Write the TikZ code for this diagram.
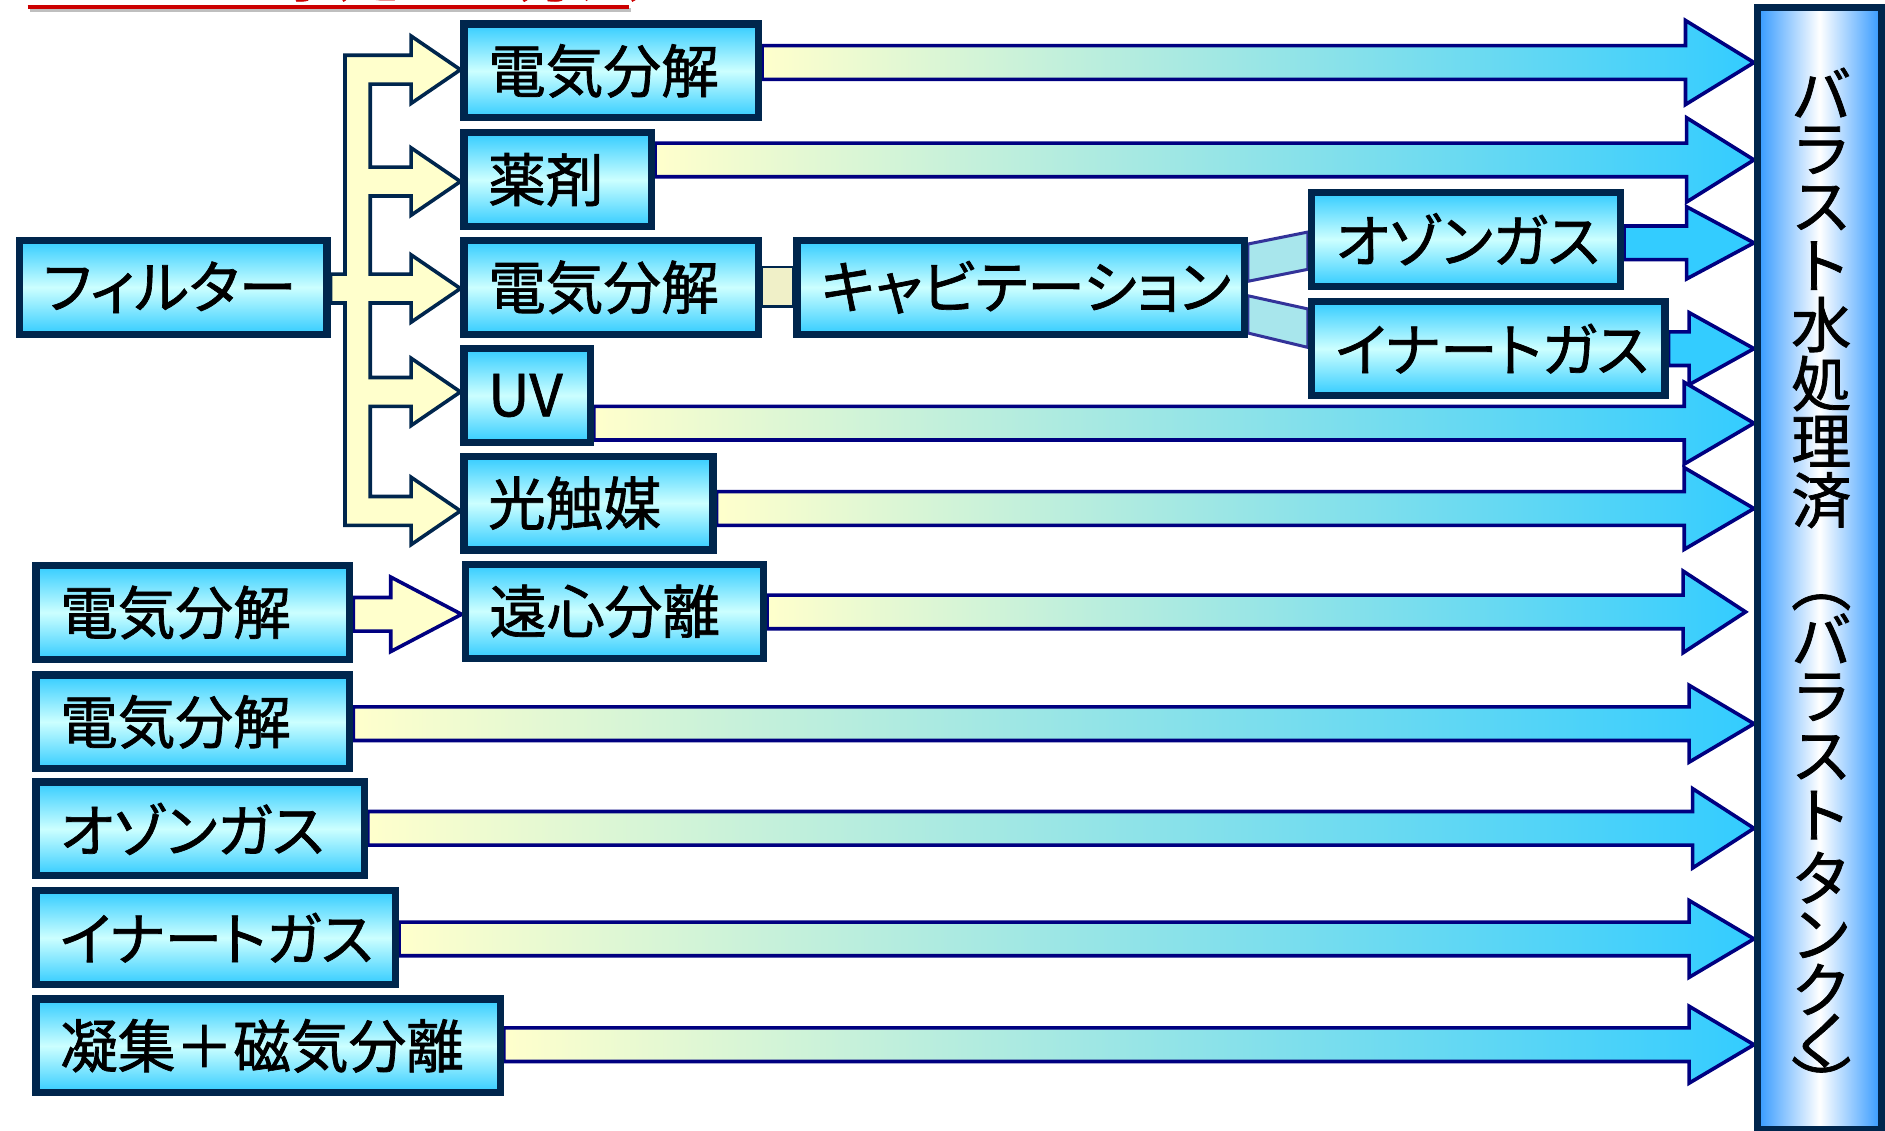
\documentclass[tikz,border=0pt]{standalone}
\usepackage{fontspec}
\usepackage{graphicx}
\setmainfont{Noto Sans CJK JP}[FakeBold=1.2]
\newfontfamily\jpp{Noto Sans CJK JP}[RawFeature=+palt, FakeBold=1.2]
\usetikzlibrary{backgrounds}
\definecolor{boxnavy}{RGB}{0,38,77}
\definecolor{boxblue}{RGB}{51,204,255}
\definecolor{boxlight}{RGB}{204,255,255}
\definecolor{arrline}{RGB}{0,0,128}
\definecolor{ayellow}{RGB}{255,255,204}
\definecolor{acyan}{RGB}{51,204,255}
\definecolor{barblue}{RGB}{51,153,255}
\definecolor{bandfill}{RGB}{168,230,236}
\definecolor{bandline}{RGB}{51,51,153}
\definecolor{ybandfill}{RGB}{240,240,200}
\definecolor{titlered}{RGB}{204,0,0}
\tikzset{
  stagebox/.style={draw=boxnavy, line width=6pt, top color=boxblue, bottom color=boxblue,
    middle color=boxlight, inner xsep=20pt, inner ysep=0pt, minimum height=78pt,
    anchor=west, align=left, font=\fontsize{48}{52}\selectfont},
  kana/.style={font=\jpp\fontsize{48}{52}\selectfont},
  garrow/.style={draw=arrline, line width=3pt, left color=ayellow, right color=acyan, line join=miter},
  carrow/.style={draw=arrline, line width=3pt, fill=acyan, line join=miter},
  yarrow/.style={draw=arrline, line width=3pt, fill=ayellow, line join=miter},
  branch/.style={draw=boxnavy, line width=3pt, fill=ayellow, line join=miter},
  band/.style={draw=bandline, line width=2.5pt, fill=bandfill},
  yband/.style={draw=boxnavy, line width=2pt, fill=ybandfill},
  bartxt/.style={font=\fontsize{50}{52}\selectfont, inner sep=0pt},
}
\newcommand\blockarr[8]{\path[#1] (#2.east |- 0,#5) -- (#4,#5) -- (#4,#7) -- (#3) -- (#4,#8) -- (#4,#6) -- (#2.east |- 0,#6) -- cycle;}
\begin{document}
\begin{tikzpicture}[x=1pt,y=-1pt]
\useasboundingbox (0,0) rectangle (1568,940);
\clip (0,0) rectangle (1568,940);

% title (cut off at the top, as in the reference)
\node[font=\fontsize{50}{52}\selectfont, text=titlered, inner sep=0pt, anchor=south west] (ttl) at (32,1.5) {バラスト水処理の方法};
\draw[black!25, line width=3pt] (25,8.5) -- (525,8.5);
\draw[titlered, line width=3pt] (23,6) -- (523,6);

% boxes
\node[stagebox, text width=205pt] (e1) at (383,59) {\mbox{電気分解}};
\node[stagebox, text width=116pt] (yaku) at (383,149.5) {\mbox{薬剤}};
\node[stagebox, kana, text width=216pt] (filt) at (13,239) {\mbox{フィルター}};
\node[stagebox, text width=205pt] (e2) at (383,239) {\mbox{電気分解}};
\node[stagebox, kana, text width=332pt] (cav) at (660,239) {\mbox{キャビテーション}};
\node[stagebox, kana, text width=217pt] (oz1) at (1088,199) {\mbox{オゾンガス}};
\node[stagebox, kana, text width=254pt] (in1) at (1088,290) {\mbox{イナートガス}};
\node[stagebox, text width=65pt] (uv) at (383,329) {\mbox{UV}};
\node[stagebox, text width=167pt] (hk) at (383,418.5) {\mbox{光触媒}};
\node[stagebox, text width=221pt] (e3) at (27,509.5) {\mbox{電気分解}};
\node[stagebox, text width=208pt] (en) at (384,508.5) {\mbox{遠心分離}};
\node[stagebox, text width=221pt] (e4) at (27,600.5) {\mbox{電気分解}};
\node[stagebox, kana, text width=233pt] (oz2) at (27,689.5) {\mbox{オゾンガス}};
\node[stagebox, kana, text width=259pt] (in2) at (27,780) {\mbox{イナートガス}};
\node[stagebox, text width=346pt] (gy) at (27,870) {\mbox{凝集＋磁気分離}};

% right bar
\node[draw=boxnavy, line width=6pt, left color=barblue, right color=barblue, middle color=white,
  minimum width=103pt, minimum height=934pt, inner sep=0pt] (bar) at (1513.5,473) {};
\foreach \c/\y [count=\i] in {バ/77,ラ/125,ス/173,ト/221,水/270,処/319,理/367,済/416,︵/501,バ/531,ラ/580,ス/630,ト/678,タ/730,ン/778,ク/823,︶/900}
  \node[bartxt] (bt\i) at (1515,\y) {\c};
\node[bartxt, rotate=90] (bthe) at (1515,866) {へ};

\begin{pgfonlayer}{background}
% branching arrow from the filter
\path[branch] (filt.east |- 0,228) -- (287,228) -- (287,46) -- (342,46) -- (342,30) -- (e1.west |- 0,58)
  -- (342,86) -- (342,70) -- (308,70) -- (308,139) -- (342,139) -- (342,123) -- (yaku.west |- 0,151)
  -- (342,179) -- (342,163) -- (308,163) -- (308,228) -- (342,228) -- (342,212) -- (e2.west |- 0,240)
  -- (342,268) -- (342,252) -- (308,252) -- (308,314) -- (342,314) -- (342,298) -- (uv.west |- 0,326)
  -- (342,354) -- (342,338) -- (308,338) -- (308,413) -- (342,413) -- (342,397) -- (hk.west |- 0,425)
  -- (342,453) -- (342,437) -- (287,437) -- (287,252) -- (filt.east |- 0,252) -- cycle;
% bands
\draw[yband] (e2.east |- 0,222) rectangle (cav.west |- 0,255);
\draw[band] (cav.east |- 0,203) -- (oz1.west |- 0,193) -- (oz1.west |- 0,224) -- (cav.east |- 0,234) -- cycle;
\draw[band] (cav.east |- 0,246) -- (in1.west |- 0,257) -- (in1.west |- 0,289) -- (cav.east |- 0,277) -- cycle;
% arrows
\blockarr{yarrow}{e3}{en.west |- 0,511}{325}{497}{525}{480}{542}
\blockarr{garrow}{e1}{bar.west |- 0,52}{1402}{38}{66}{17}{87}
\blockarr{garrow}{yaku}{bar.west |- 0,133}{1403}{119}{147}{98}{168}
\blockarr{carrow}{oz1}{bar.west |- 0,202}{1403}{188}{216}{172}{232}
\blockarr{carrow}{in1}{bar.west |- 0,290}{1405}{276}{304}{260}{320}
\blockarr{garrow}{uv}{bar.west |- 0,352}{1401}{338}{366}{318}{386}
\blockarr{garrow}{hk}{bar.west |- 0,423}{1401}{409}{437}{389}{457}
\blockarr{garrow}{en}{1452,509}{1400}{495}{523}{475}{543}
\blockarr{garrow}{e4}{bar.west |- 0,602}{1405}{588}{616}{570}{634}
\blockarr{garrow}{oz2}{bar.west |- 0,689}{1408}{675}{703}{656}{722}
\blockarr{garrow}{in2}{bar.west |- 0,781}{1405}{767}{795}{749}{813}
\blockarr{garrow}{gy}{bar.west |- 0,869}{1405}{855}{883}{837}{901}
\end{pgfonlayer}
\end{tikzpicture}
\end{document}
